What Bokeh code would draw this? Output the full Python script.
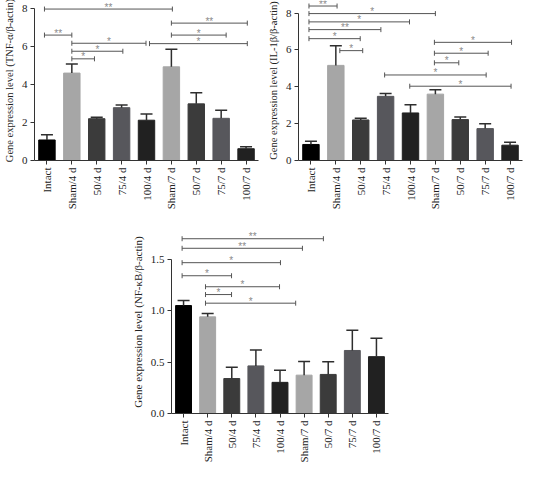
import numpy as np
from bokeh.plotting import figure
from bokeh.layouts import column, row
from bokeh.models import FixedTicker, Spacer, NumeralTickFormatter
from bokeh.embed import file_html
from bokeh.resources import INLINE

groups = ["Intact", "Sham/4 d", "50/4 d", "75/4 d", "100/4 d",
          "Sham/7 d", "50/7 d", "75/7 d", "100/7 d"]
bar_colors = ["#000000", "#a6a6a6", "#3b3b3b", "#57575c", "#212121",
              "#a6a6a6", "#3b3b3b", "#57575c", "#212121"]

# Panel A: TNF-alpha
tnf_mean = [1.08, 4.60, 2.20, 2.78, 2.12, 4.93, 2.98, 2.22, 0.62]
tnf_err = [0.27, 0.48, 0.07, 0.14, 0.33, 0.93, 0.59, 0.43, 0.10]
tnf_br_start = [-0.1, -0.1, 1.0, 1.0, 1.0, 5.0, 5.0, 4.12]
tnf_br_end = [5.04, 1.0, 3.98, 3.05, 1.91, 8.05, 7.2, 8.05]
tnf_br_y = [7.97, 6.60, 6.17, 5.75, 5.35, 7.23, 6.60, 6.15]
tnf_br_label = ["**", "**", "*", "*", "*", "**", "*", "*"]

# Panel B: IL-1beta
il1_mean = [0.87, 5.16, 2.20, 3.48, 2.58, 3.60, 2.22, 1.73, 0.83]
il1_err = [0.17, 1.07, 0.09, 0.16, 0.45, 0.24, 0.14, 0.26, 0.16]
il1_br_start = [-0.08, -0.08, -0.08, -0.08, -0.08, 1.16, 4.96, 4.96, 4.96, 2.96, 3.97]
il1_br_end = [1.05, 5.0, 3.96, 2.81, 1.98, 2.08, 8.06, 7.12, 5.94, 7.04, 8.04]
il1_br_y = [8.38, 7.97, 7.52, 7.10, 6.61, 5.96, 6.41, 5.82, 5.30, 4.64, 4.03]
il1_br_label = ["**", "*", "*", "**", "*", "*", "*", "*", "*", "*", "*"]

# Panel C: NF-kB
nfkb_mean = [1.05, 0.94, 0.34, 0.463, 0.303, 0.373, 0.38, 0.613, 0.553]
nfkb_err = [0.05, 0.033, 0.11, 0.154, 0.117, 0.134, 0.123, 0.197, 0.18]
nfkb_br_start = [-0.06, -0.06, -0.06, -0.06, 0.91, 0.91, 0.91]
nfkb_br_end = [5.8, 4.93, 4.02, 1.99, 3.98, 1.99, 4.65]
nfkb_br_y = [1.70, 1.607, 1.467, 1.34, 1.233, 1.157, 1.073]
nfkb_br_label = ["**", "**", "*", "*", "*", "*", "*"]

SERIF = "Liberation Serif"


def make_panel(means, errs, ylabel, yticks, ymax, ybound, br_start, br_end, br_y, br_label,
               width, height, b_left, b_bottom, b_top, label_size, fmt=None):
    idx = list(range(len(groups)))
    p = figure(width=width, height=height, x_range=(-0.5, 8.5), y_range=(0, ymax),
               output_backend="svg", toolbar_location=None,
               min_border_left=b_left, min_border_right=2, min_border_top=b_top,
               min_border_bottom=b_bottom)
    p.outline_line_color = None
    p.xgrid.visible = False
    p.ygrid.visible = False
    p.background_fill_color = "white"
    p.border_fill_color = "white"

    p.vbar(x=idx, top=means, width=0.66, fill_color=bar_colors, line_color=bar_colors)
    tops = [m + e for m, e in zip(means, errs)]
    p.segment(x0=idx, y0=means, x1=idx, y1=tops, line_color="#2e2e2e", line_width=1.5)
    p.scatter(x=idx, y=tops, marker="dash", size=12, line_color="#2e2e2e", line_width=1.5)

    # significance brackets
    p.segment(x0=br_start, y0=br_y, x1=br_end, y1=br_y, line_color="#555555", line_width=1)
    p.scatter(x=br_start + br_end, y=br_y + br_y, marker="dash", angle=np.pi / 2, size=5,
              line_color="#555555", line_width=1)
    mids = [(a + b) / 2 for a, b in zip(br_start, br_end)]
    p.text(x=mids, y=br_y, text=br_label, text_align="center", text_baseline="middle",
           text_font_size="10px", text_color="#8a8a8a", y_offset=-2)

    p.xaxis.ticker = FixedTicker(ticks=idx)
    p.xaxis.major_label_overrides = {i: g for i, g in enumerate(groups)}
    p.xaxis.major_label_orientation = np.pi / 2
    p.yaxis.ticker = FixedTicker(ticks=yticks)
    p.yaxis.bounds = ybound
    if fmt:
        p.yaxis.formatter = NumeralTickFormatter(format=fmt)
    for ax in (p.xaxis, p.yaxis):
        ax.major_tick_out = 4
        ax.major_tick_in = 0
        ax.minor_tick_line_color = None
        ax.axis_line_color = "#333333"
        ax.major_tick_line_color = "#333333"
        ax.major_label_text_font = SERIF
        ax.major_label_text_font_size = "11px"
        ax.major_label_text_color = "#222222"
        ax.major_label_standoff = 3
    p.yaxis.axis_label = ylabel
    p.yaxis.axis_label_text_font = SERIF
    p.yaxis.axis_label_text_font_style = "normal"
    p.yaxis.axis_label_text_font_size = label_size
    p.yaxis.axis_label_text_color = "#222222"
    p.yaxis.axis_label_standoff = 4
    return p


pA = make_panel(tnf_mean, tnf_err, "Gene expression level (TNF-α/β-actin)", [0, 2, 4, 6, 8],
                8.42, (0, 8), tnf_br_start, tnf_br_end, tnf_br_y, tnf_br_label,
                260, 230, 28, 70, 0, "10.5px")
pB = make_panel(il1_mean, il1_err, "Gene expression level (IL-1β/β-actin)", [0, 2, 4, 6, 8],
                8.68, (0, 8), il1_br_start, il1_br_end, il1_br_y, il1_br_label,
                264, 230, 38, 63, 0, "10.5px")
pC = make_panel(nfkb_mean, nfkb_err, "Gene expression level (NF-κB/β-actin)", [0, 0.5, 1.0, 1.5],
                1.78, (0, 1.5), nfkb_br_start, nfkb_br_end, nfkb_br_y, nfkb_br_label,
                262, 235, 40, 50, 0, "11px", fmt="0.0")

layout = column(row(pA, pB), row(Spacer(width=128, height=235), pC))
open("out.html", "w").write(file_html(layout, INLINE))
